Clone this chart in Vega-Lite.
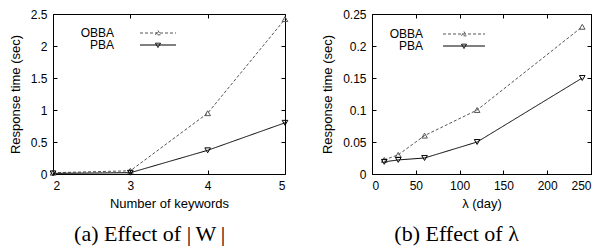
{
  "$schema": "https://vega.github.io/schema/vega-lite/v6.json",
  "padding": {"left": 8, "top": 7, "right": 0, "bottom": 0},
  "spacing": 30,
  "config": {
    "font": "Liberation Sans",
    "view": {"stroke": "black", "strokeWidth": 1},
    "axis": {
      "grid": false,
      "domain": false,
      "tickSize": -4,
      "tickColor": "black",
      "labelColor": "black",
      "labelFont": "Liberation Sans",
      "labelFontSize": 12,
      "labelPadding": 10,
      "titleFont": "Liberation Sans",
      "titleFontSize": 13,
      "titleFontWeight": "normal",
      "titleColor": "black"
    },
    "legend": {
      "labelFont": "Liberation Sans",
      "labelFontSize": 12,
      "labelColor": "black"
    }
  },
  "datasets": {
    "kw": [
      {"x": 2, "y": 0.02, "series": "OBBA"},
      {"x": 3, "y": 0.05, "series": "OBBA"},
      {"x": 4, "y": 0.95, "series": "OBBA"},
      {"x": 5, "y": 2.42, "series": "OBBA"},
      {"x": 2, "y": 0.01, "series": "PBA"},
      {"x": 3, "y": 0.02, "series": "PBA"},
      {"x": 4, "y": 0.37, "series": "PBA"},
      {"x": 5, "y": 0.8, "series": "PBA"}
    ],
    "lam": [
      {"x": 14, "y": 0.022, "series": "OBBA"},
      {"x": 30, "y": 0.03, "series": "OBBA"},
      {"x": 60, "y": 0.06, "series": "OBBA"},
      {"x": 120, "y": 0.1, "series": "OBBA"},
      {"x": 240, "y": 0.23, "series": "OBBA"},
      {"x": 14, "y": 0.019, "series": "PBA"},
      {"x": 30, "y": 0.022, "series": "PBA"},
      {"x": 60, "y": 0.025, "series": "PBA"},
      {"x": 120, "y": 0.05, "series": "PBA"},
      {"x": 240, "y": 0.15, "series": "PBA"}
    ]
  },
  "hconcat": [
    {
      "width": 232,
      "height": 160,
      "data": {"name": "kw"},
      "title": {"text": "(a) Effect of |\u2009W\u2009|", "orient": "bottom", "font": "Liberation Serif", "fontSize": 22, "fontWeight": "normal", "color": "black", "anchor": "middle", "frame": "bounds", "offset": 14},
      "resolve": {"axis": {"x": "independent", "y": "independent"}},
      "layer": [
        {
          "mark": {"type": "line", "strokeWidth": 1},
          "encoding": {
            "x": {"field": "x", "type": "quantitative", "scale": {"domain": [2, 5], "nice": false}, "axis": {"values": [2, 3, 4, 5], "title": "Number of keywords", "titlePadding": 6}},
            "y": {"field": "y", "type": "quantitative", "scale": {"domain": [0, 2.5], "nice": false}, "axis": {"values": [0, 0.5, 1, 1.5, 2, 2.5], "format": "~g", "title": "Response time (sec)", "titlePadding": 8}},
            "color": {"field": "series", "type": "nominal", "scale": {"domain": ["OBBA", "PBA"], "range": ["#555555", "#000000"]},
              "legend": {"orient": "none", "legendX": 99, "legendY": 13, "title": null, "symbolSize": 100, "symbolStrokeWidth": 1, "symbolFillColor": "transparent", "labelAlign": "right", "labelOffset": -50, "rowPadding": -1,
                "encode": {"symbols": {"update": {"size": {"value": 100}, "shape": {"signal": "datum.value === 'OBBA' ? 'M-3.6,0L3.6,0M0,-0.5L0.5,0.36L-0.5,0.36Z' : 'M-3.6,0L3.6,0M0,0.5L0.5,-0.36L-0.5,-0.36Z'"}, "fill": {"value": "transparent"}}}}}},
            "strokeDash": {"field": "series", "type": "nominal", "scale": {"domain": ["OBBA", "PBA"], "range": [[3, 2], [1, 0]]},
              "legend": {"orient": "none", "legendX": 99, "legendY": 13, "title": null, "symbolSize": 100, "symbolStrokeWidth": 1, "symbolFillColor": "transparent", "labelAlign": "right", "labelOffset": -50, "rowPadding": -1,
                "encode": {"symbols": {"update": {"size": {"value": 100}, "shape": {"signal": "datum.value === 'OBBA' ? 'M-3.6,0L3.6,0M0,-0.5L0.5,0.36L-0.5,0.36Z' : 'M-3.6,0L3.6,0M0,0.5L0.5,-0.36L-0.5,-0.36Z'"}, "fill": {"value": "transparent"}}}}}}
          }
        },
        {
          "transform": [{"filter": "datum.series === 'OBBA'"}],
          "mark": {"type": "point", "shape": "triangle-up", "filled": false, "size": 32, "strokeWidth": 1, "opacity": 1},
          "encoding": {
            "x": {"field": "x", "type": "quantitative", "axis": {"orient": "top", "values": [2, 3, 4, 5], "labels": false, "title": null}},
            "y": {"field": "y", "type": "quantitative", "axis": {"orient": "right", "values": [0, 0.5, 1, 1.5, 2, 2.5], "labels": false, "title": null}},
            "color": {"field": "series", "type": "nominal", "legend": null}
          }
        },
        {
          "transform": [{"filter": "datum.series === 'PBA'"}],
          "mark": {"type": "point", "shape": "triangle-down", "filled": false, "size": 32, "strokeWidth": 1, "opacity": 1},
          "encoding": {
            "x": {"field": "x", "type": "quantitative", "axis": null},
            "y": {"field": "y", "type": "quantitative", "axis": null},
            "color": {"field": "series", "type": "nominal", "legend": null}
          }
        }
      ]
    },
    {
      "width": 219,
      "height": 160,
      "data": {"name": "lam"},
      "title": {"text": "(b) Effect of λ", "orient": "bottom", "font": "Liberation Serif", "fontSize": 22, "fontWeight": "normal", "color": "black", "anchor": "middle", "frame": "bounds", "offset": 14},
      "resolve": {"axis": {"x": "independent", "y": "independent"}},
      "layer": [
        {
          "mark": {"type": "line", "strokeWidth": 1},
          "encoding": {
            "x": {"field": "x", "type": "quantitative", "scale": {"domain": [0, 250], "nice": false}, "axis": {"values": [0, 50, 100, 150, 200, 250], "title": "λ (day)", "titlePadding": 6}},
            "y": {"field": "y", "type": "quantitative", "scale": {"domain": [0, 0.25], "nice": false}, "axis": {"values": [0, 0.05, 0.1, 0.15, 0.2, 0.25], "format": "~g", "title": "Response time (sec)", "titlePadding": 8}},
            "color": {"field": "series", "type": "nominal", "scale": {"domain": ["OBBA", "PBA"], "range": ["#555555", "#000000"]},
              "legend": {"orient": "none", "legendX": 86, "legendY": 14, "title": null, "symbolSize": 100, "symbolStrokeWidth": 1, "symbolFillColor": "transparent", "labelAlign": "right", "labelOffset": -47, "rowPadding": -1,
                "encode": {"symbols": {"update": {"size": {"value": 100}, "shape": {"signal": "datum.value === 'OBBA' ? 'M-4.2,0L4.2,0M0,-0.5L0.5,0.36L-0.5,0.36Z' : 'M-4.2,0L4.2,0M0,0.5L0.5,-0.36L-0.5,-0.36Z'"}, "fill": {"value": "transparent"}}}}}},
            "strokeDash": {"field": "series", "type": "nominal", "scale": {"domain": ["OBBA", "PBA"], "range": [[3, 2], [1, 0]]},
              "legend": {"orient": "none", "legendX": 86, "legendY": 14, "title": null, "symbolSize": 100, "symbolStrokeWidth": 1, "symbolFillColor": "transparent", "labelAlign": "right", "labelOffset": -47, "rowPadding": -1,
                "encode": {"symbols": {"update": {"size": {"value": 100}, "shape": {"signal": "datum.value === 'OBBA' ? 'M-4.2,0L4.2,0M0,-0.5L0.5,0.36L-0.5,0.36Z' : 'M-4.2,0L4.2,0M0,0.5L0.5,-0.36L-0.5,-0.36Z'"}, "fill": {"value": "transparent"}}}}}}
          }
        },
        {
          "transform": [{"filter": "datum.series === 'OBBA'"}],
          "mark": {"type": "point", "shape": "triangle-up", "filled": false, "size": 32, "strokeWidth": 1, "opacity": 1},
          "encoding": {
            "x": {"field": "x", "type": "quantitative", "axis": {"orient": "top", "values": [0, 50, 100, 150, 200, 250], "labels": false, "title": null}},
            "y": {"field": "y", "type": "quantitative", "axis": {"orient": "right", "values": [0, 0.05, 0.1, 0.15, 0.2, 0.25], "labels": false, "title": null}},
            "color": {"field": "series", "type": "nominal", "legend": null}
          }
        },
        {
          "transform": [{"filter": "datum.series === 'PBA'"}],
          "mark": {"type": "point", "shape": "triangle-down", "filled": false, "size": 32, "strokeWidth": 1, "opacity": 1},
          "encoding": {
            "x": {"field": "x", "type": "quantitative", "axis": null},
            "y": {"field": "y", "type": "quantitative", "axis": null},
            "color": {"field": "series", "type": "nominal", "legend": null}
          }
        }
      ]
    }
  ],
  "resolve": {"scale": {"color": "independent", "strokeDash": "independent"}, "legend": {"color": "independent", "strokeDash": "independent"}}
}
